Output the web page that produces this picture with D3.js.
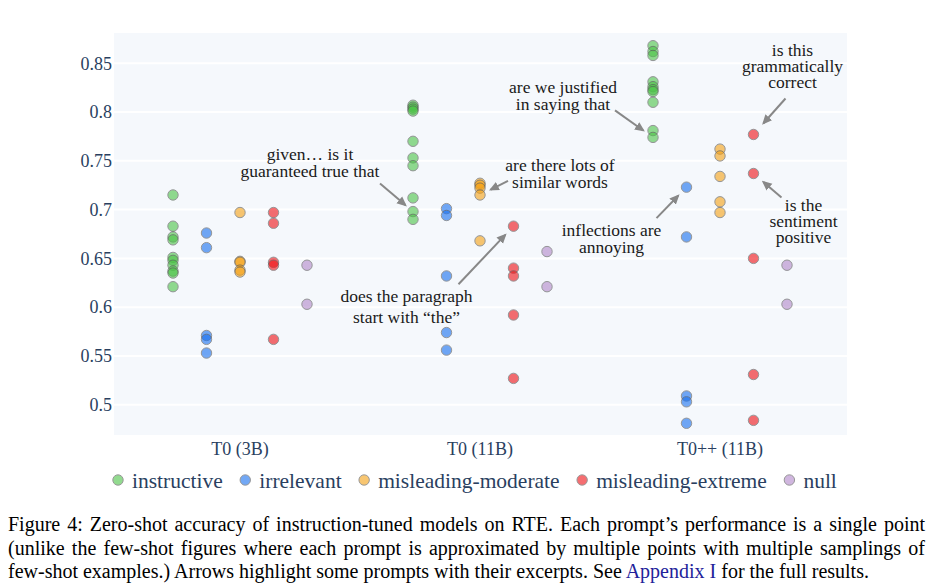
<!DOCTYPE html>
<html><head><meta charset="utf-8">
<script src="https://cdn.jsdelivr.net/npm/d3@7"></script>
<style>
body{margin:0;background:#fff;}
#wrap{position:relative;width:938px;height:588px;overflow:hidden;background:#fff;}
svg{position:absolute;left:0;top:0;}
.cap{position:absolute;left:8px;width:917px;font-family:"Liberation Serif","Times New Roman",serif;font-size:20px;line-height:22px;color:#000;white-space:nowrap;text-align:justify;}
.cap.j{text-align-last:justify;}
.cap a{color:#22229a;text-decoration:none;}
</style></head><body><div id="wrap"></div>
<script>
// ---------- data ----------
const categories = ["T0 (3B)", "T0 (11B)", "T0++ (11B)"];
const seriesNames = ["instructive", "irrelevant", "misleading-moderate", "misleading-extreme", "null"];
const yTicks = [0.5, 0.55, 0.6, 0.65, 0.7, 0.75, 0.8, 0.85];
const yTickLabels = ["0.5", "0.55", "0.6", "0.65", "0.7", "0.75", "0.8", "0.85"];

// one inner array per category
const instructive = [
  [0.715, 0.683, 0.672, 0.669, 0.651, 0.648, 0.643, 0.637, 0.635, 0.621],
  [0.807, 0.805, 0.803, 0.801, 0.770, 0.753, 0.745, 0.712, 0.698, 0.690],
  [0.868, 0.862, 0.858, 0.831, 0.826, 0.823, 0.821, 0.810, 0.781, 0.774]
];
const irrelevant = [
  [0.676, 0.661, 0.571, 0.567, 0.553],
  [0.701, 0.694, 0.632, 0.574, 0.556],
  [0.723, 0.672, 0.509, 0.503, 0.481]
];
const misleadingModerate = [
  [0.697, 0.647, 0.646, 0.638, 0.636],
  [0.727, 0.725, 0.722, 0.715, 0.668],
  [0.762, 0.755, 0.734, 0.708, 0.697]
];
const misleadingExtreme = [
  [0.697, 0.686, 0.646, 0.643, 0.567],
  [0.683, 0.640, 0.632, 0.592, 0.527],
  [0.777, 0.737, 0.650, 0.531, 0.484]
];
const nullPrompt = [
  [0.643, 0.603],
  [0.657, 0.621],
  [0.643, 0.603]
];
const seriesValues = [instructive, irrelevant, misleadingModerate, misleadingExtreme, nullPrompt];
const seriesColors = ["rgb(75,195,70)", "rgb(22,111,240)", "rgb(245,161,19)", "rgb(240,15,19)", "rgb(178,135,202)"];

// annotations: text lines and the point they point to
const annotations = [
  {lines: ["given\u2026  is it", "guaranteed true that"], cat: 1, series: 0, value: 0.698},
  {lines: ["does the paragraph", "start with \u201cthe\u201d"], cat: 1, series: 3, value: 0.683},
  {lines: ["are we justified", "in saying that"], cat: 2, series: 0, value: 0.774},
  {lines: ["are there lots of", "similar words"], cat: 1, series: 2, value: 0.715},
  {lines: ["inflections are", "annoying"], cat: 2, series: 1, value: 0.723},
  {lines: ["is this", "grammatically", "correct"], cat: 2, series: 3, value: 0.777},
  {lines: ["is the", "sentiment", "positive"], cat: 2, series: 3, value: 0.737}
];
// arrow tail offset (ax, ay), standoff, text offset (tx, ty) and line step in px
const annotationLayout = [
  {ax: -33, ay: -28, so: 10, tx: -103, ty: -58, lh: 17},
  {ax: -55, ay: 58, so: 12, tx: -107, ty: 70, lh: 20.5},
  {ax: -38, ay: -27, so: 12, tx: -90, ty: -51, lh: 17},
  {ax: 28, ay: -14, so: 12, tx: 80, ty: -30, lh: 17},
  {ax: -30, ay: 31, so: 12, tx: -75, ty: 43, lh: 17},
  {ax: 32, ay: -36, so: 15, tx: 39, ty: -85, lh: 16.2},
  {ax: 28, ay: 24, so: 13, tx: 50, ty: 31, lh: 16}
];

// ---------- layout ----------
const W = 938, H = 588;
const plot = {left: 114, right: 847, top: 33, bottom: 435};
const axisColor = "#2a3f5f";
const SERIF = "'Liberation Serif', 'Times New Roman', Times, serif";

const wrap = d3.select("#wrap");
const svg = wrap.append("svg").attr("width", W).attr("height", H)
  .style("font-family", SERIF);

const x = d3.scaleBand().domain(categories).range([120, 840]);
const seriesOffset = d3.scalePoint().domain(seriesNames).range([-67, 67]);
const y = d3.scaleLinear().domain([0.469, 0.881]).range([plot.bottom, plot.top]);
const px = (ci, si) => x(categories[ci]) + x.bandwidth() / 2 + seriesOffset(seriesNames[si]);

svg.append("rect").attr("x", plot.left).attr("y", plot.top)
  .attr("width", plot.right - plot.left).attr("height", plot.bottom - plot.top)
  .attr("fill", "#f5f8fc");

// grid
svg.append("g").selectAll("line").data(yTicks).join("line")
  .attr("x1", plot.left).attr("x2", plot.right)
  .attr("y1", d => y(d)).attr("y2", d => y(d))
  .attr("stroke", "#fff").attr("stroke-width", 2);

// y axis
const yAxis = d3.axisLeft(y).tickValues(yTicks).tickFormat((d, i) => yTickLabels[i]).tickSize(0).tickPadding(2);
const gy = svg.append("g").attr("transform", `translate(${plot.left},0)`).call(yAxis);
gy.attr("font-family", null);
gy.select(".domain").remove();
gy.selectAll("text").style("font-family", SERIF).style("font-size", "18px").attr("fill", axisColor);

// x axis
const xAxis = d3.axisBottom(x).tickSize(0).tickPadding(7);
const gx = svg.append("g").attr("transform", `translate(0,${plot.bottom})`).call(xAxis);
gx.attr("font-family", null);
gx.select(".domain").remove();
gx.selectAll("text").style("font-family", SERIF).style("font-size", "18px").attr("fill", axisColor);

// points
const pts = [];
seriesValues.forEach((sv, si) => sv.forEach((vals, ci) => vals.forEach(v => pts.push({si, ci, v}))));
svg.append("g").selectAll("circle").data(pts).join("circle")
  .attr("cx", d => px(d.ci, d.si)).attr("cy", d => y(d.v)).attr("r", 5.2)
  .attr("fill", d => seriesColors[d.si]).attr("stroke", "#555").attr("stroke-width", 1)
  .attr("opacity", 0.6);

// annotations
svg.append("defs").append("marker").attr("id", "ah").attr("viewBox", "0 0 10 10")
  .attr("refX", 8).attr("refY", 5).attr("markerWidth", 10).attr("markerHeight", 10)
  .attr("markerUnits", "userSpaceOnUse").attr("orient", "auto")
  .append("path").attr("d", "M0,0.5 L10,5 L0,9.5 Z").attr("fill", "#888");

const ag = svg.append("g");
annotations.forEach((a, i) => {
  const L = annotationLayout[i];
  const tx0 = px(a.cat, a.series), ty0 = y(a.value);
  const sx = tx0 + L.ax, sy = ty0 + L.ay;
  const dx = tx0 - sx, dy = ty0 - sy, len = Math.hypot(dx, dy);
  const ex = tx0 - dx / len * L.so, ey = ty0 - dy / len * L.so;
  ag.append("line").attr("x1", sx).attr("y1", sy).attr("x2", ex).attr("y2", ey)
    .attr("stroke", "#888").attr("stroke-width", 2).attr("marker-end", "url(#ah)");
  const t = ag.append("text").style("font-family", SERIF).style("font-size", "17.5px")
    .attr("fill", "#1a1a1a").attr("text-anchor", "middle");
  a.lines.forEach((ln, k) => {
    t.append("tspan").attr("x", tx0 + L.tx).attr("y", ty0 + L.ty + k * L.lh)
      .attr("dy", "0.35em").text(ln);
  });
});

// legend
const lg = svg.append("g").attr("transform", "translate(0,480)");
let lx = 118;
seriesNames.forEach((s, i) => {
  lg.append("circle").attr("cx", lx).attr("cy", 0).attr("r", 5.2)
    .attr("fill", seriesColors[i]).attr("stroke", "#555").attr("stroke-width", 1).attr("opacity", 0.6);
  const t = lg.append("text").attr("x", lx + 14).attr("y", 0).attr("dy", "0.35em")
    .style("font-family", SERIF).style("font-size", "21.5px").attr("fill", axisColor).text(s);
  lx += 14 + t.node().getComputedTextLength() + 22.5;
});

// caption
const captionLines = [
  "Figure 4: Zero-shot accuracy of instruction-tuned models on RTE. Each prompt\u2019s performance is a single point",
  "(unlike the few-shot figures where each prompt is approximated by multiple points with multiple samplings of"
];
captionLines.forEach((ln, i) => {
  wrap.append("div").attr("class", "cap j").style("top", (513 + i * 23.5) + "px").text(ln);
});
const c3 = wrap.append("div").attr("class", "cap").style("top", (513 + 2 * 23.5) + "px");
c3.append("span").text("few-shot examples.) Arrows highlight some prompts with their excerpts. See ");
c3.append("a").text("Appendix I");
c3.append("span").text(" for the full results.");
</script>
</body></html>
